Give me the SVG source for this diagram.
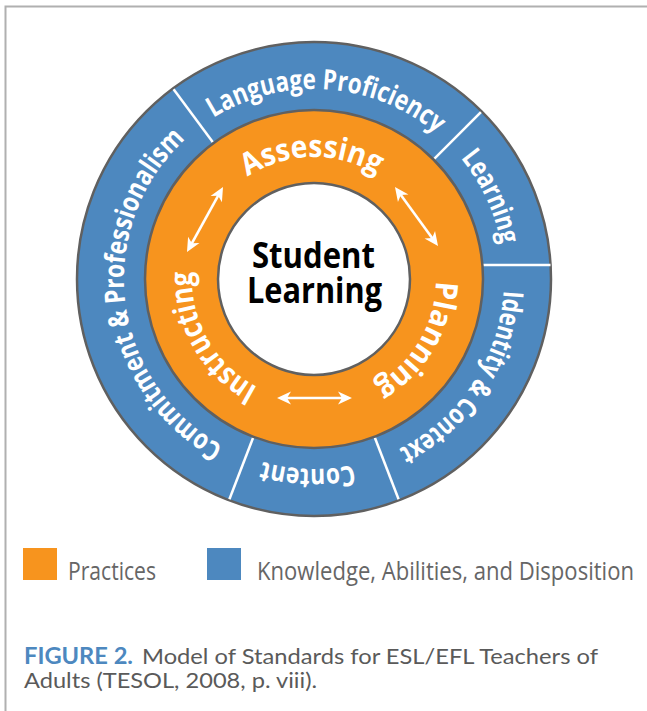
<svg xmlns="http://www.w3.org/2000/svg" width="647" height="711" viewBox="0 0 647 711">
<style>
.ring{font-family:"Open Sans","Noto Sans",sans-serif;font-weight:700;fill:#fff}
.outer{font-size:28px}
.inner{font-size:31px}
.center{font-family:"Open Sans","Noto Sans",sans-serif;font-weight:700;font-size:35px;fill:#000}
.div{stroke:#fff;stroke-width:2.5;fill:none}
.edge{stroke:#606060;stroke-width:2.5}
.legend{font-family:"Open Sans","Noto Sans",sans-serif;font-size:26px;fill:#666}
.cap{font-family:Lato,"Open Sans",sans-serif;font-size:22px;fill:#5a5a5a}
.arrow{stroke:#fff;stroke-width:2.6;fill:none;marker-start:url(#ah);marker-end:url(#ah)}
</style>
<defs>
<marker id="ah" markerUnits="userSpaceOnUse" viewBox="-15 -8 16 16" markerWidth="16" markerHeight="16" refX="-6" refY="0" orient="auto-start-reverse">
<path d="M0,0 L-14,-6.5 L-10,0 L-14,6.5 Z" fill="#fff"/>
</marker>
<path id="pLang" d="M213.3,117.9 A190,190 0 0 1 478.5,184"/>
<path id="pLearn" d="M460.6,158.1 A190,190 0 0 1 501.1,312"/>
<path id="pIdent" d="M503.6,290.6 A190,190 0 0 1 347,466.1"/>
<path id="pCont" d="M353.5,464.8 A190,190 0 0 1 205,434.6"/>
<path id="pComm" d="M223.3,446 A190,190 0 0 1 233.7,106.8"/>
<path id="pAss" d="M247.6,176.7 A122,122 0 0 1 407.5,200.6"/>
<path id="pPlan" d="M436,281.1 A122,122 0 0 1 324.6,400.5"/>
<path id="pInst" d="M257.7,387.2 A122,122 0 0 1 199.4,237.3"/>
</defs>
<rect width="647" height="711" fill="#fff"/>
<path d="M5.5,711 V6.5 H647" fill="none" stroke="#b0b0b0" stroke-width="2"/>

<g id="knowledge-ring">
<circle cx="314" cy="279" r="237" fill="#4d88bf" class="edge"/>
<line class="div" x1="212.9" y1="142.3" x2="173.6" y2="89.3"/>
<line class="div" x1="434.2" y1="158.8" x2="480.9" y2="112.1"/>
<line class="div" x1="482.5" y1="265" x2="550.5" y2="265"/>
<line class="div" x1="374.9" y1="437.7" x2="398.6" y2="499.3"/>
<line class="div" x1="253.1" y1="437.7" x2="229.4" y2="499.3"/>
</g>
<g id="language-proficiency"><text class="ring outer"><textPath href="#pLang" textLength="239" lengthAdjust="spacingAndGlyphs">Language Proficiency</textPath></text></g>
<g id="learning"><text class="ring outer"><textPath href="#pLearn" textLength="96" lengthAdjust="spacingAndGlyphs">Learning</textPath></text></g>
<g id="identity-context"><text class="ring outer"><textPath href="#pIdent" textLength="199" lengthAdjust="spacingAndGlyphs">Identity &amp; Context</textPath></text></g>
<g id="content"><text class="ring outer"><textPath href="#pCont" textLength="92" lengthAdjust="spacingAndGlyphs">Content</textPath></text></g>
<g id="commitment-professionalism"><text class="ring outer"><textPath href="#pComm" textLength="361" lengthAdjust="spacingAndGlyphs">Commitment &amp; Professionalism</textPath></text></g>

<g id="practices-ring">
<circle cx="314" cy="279" r="169" fill="#f7941e" class="edge"/>
</g>
<g id="assessing"><text class="ring inner"><textPath href="#pAss" textLength="136" lengthAdjust="spacingAndGlyphs">Assessing</textPath></text></g>
<g id="planning"><text class="ring inner"><textPath href="#pPlan" textLength="126" lengthAdjust="spacingAndGlyphs">Planning</textPath></text></g>
<g id="instructing"><text class="ring inner"><textPath href="#pInst" textLength="140" lengthAdjust="spacingAndGlyphs">Instructing</textPath></text></g>

<g id="student-learning">
<circle cx="314" cy="279" r="96" fill="#fff" class="edge"/>
<text class="center" x="252" y="268" textLength="123" lengthAdjust="spacingAndGlyphs">Student</text>
<text class="center" x="247" y="303" textLength="135" lengthAdjust="spacingAndGlyphs">Learning</text>
</g>

<g id="connectors">
<line class="arrow" x1="189.9" y1="246.8" x2="220.1" y2="192.2"/>
<line class="arrow" x1="398.5" y1="191.8" x2="434.5" y2="241.2"/>
<line class="arrow" x1="283" y1="398" x2="346" y2="398"/>
</g>

<g id="legend">
<rect x="23" y="548" width="34" height="32" fill="#f7941e"/>
<text class="legend" x="68" y="580" textLength="88" lengthAdjust="spacingAndGlyphs">Practices</text>
<rect x="207" y="548" width="34" height="32" fill="#4d88bf"/>
<text class="legend" x="257" y="580" textLength="377" lengthAdjust="spacingAndGlyphs">Knowledge, Abilities, and Disposition</text>
</g>

<g id="caption">
<text class="cap" x="24" y="664"><tspan font-weight="700" fill="#4d88bf" textLength="109" lengthAdjust="spacingAndGlyphs">FIGURE 2.</tspan><tspan x="142" textLength="456" lengthAdjust="spacingAndGlyphs">Model of Standards for ESL/EFL Teachers of</tspan></text>
<text class="cap" x="24" y="688" textLength="293" lengthAdjust="spacingAndGlyphs">Adults (TESOL, 2008, p. viii).</text>
</g>
</svg>
